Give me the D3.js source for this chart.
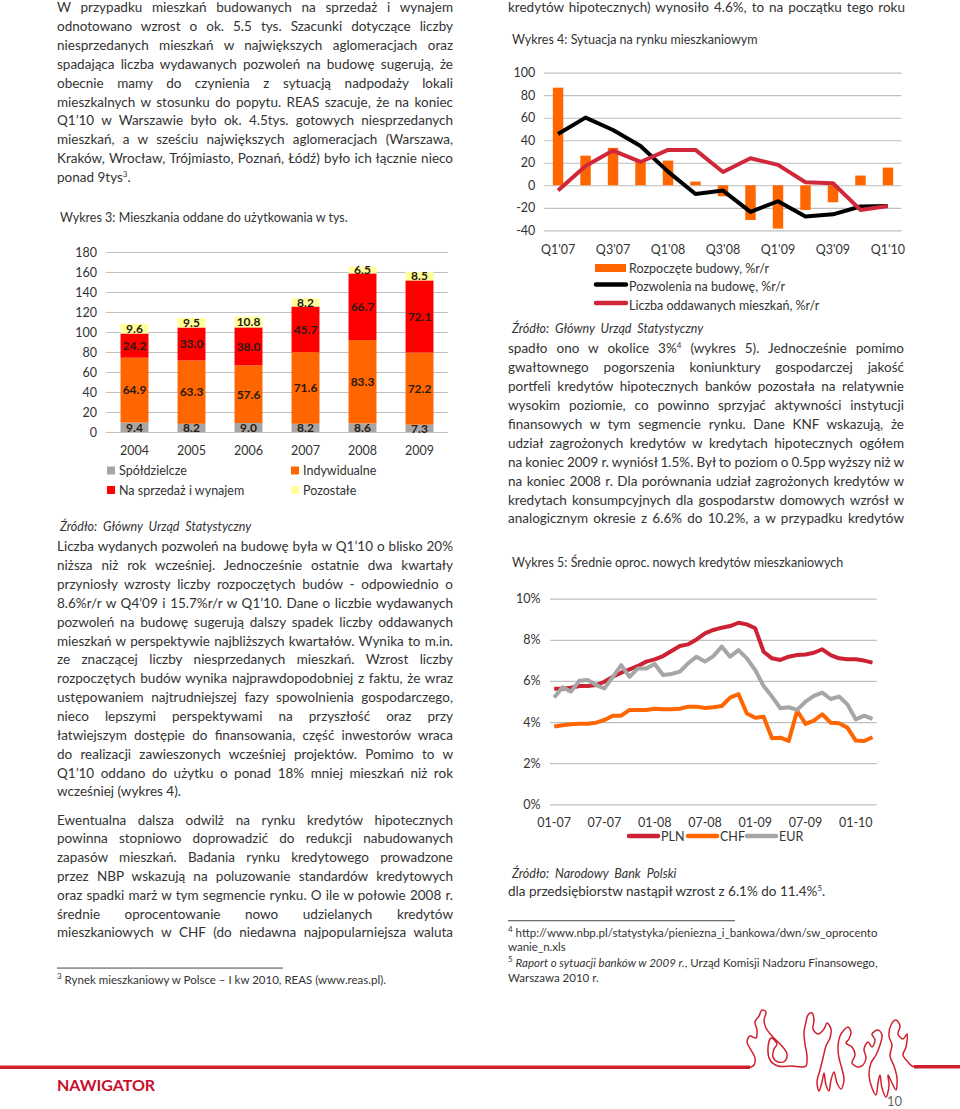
<!DOCTYPE html>
<html><head><meta charset="utf-8">
<script src="https://cdn.jsdelivr.net/npm/d3@7"></script>
<style>
html,body{margin:0;padding:0;background:#fff;}
body{width:960px;height:1109px;position:relative;overflow:hidden;font-family:Lato,'Open Sans',sans-serif;color:#333;}
svg{position:absolute;left:0;top:0;}
.ln{position:absolute;white-space:nowrap;font-size:13.5px;line-height:19px;color:#333;}
.ln sup{font-size:8px;line-height:0;vertical-align:5px;}
.small{font-size:11.5px;line-height:14px;}
.cap{font-size:12.5px;}
.src{font-size:12.5px;font-style:italic;word-spacing:3px;}
</style></head><body>
<svg id="page" width="960" height="1109"></svg>
<script>
// ---------- Chart 3 data ----------
const years = ["2004","2005","2006","2007","2008","2009"];
const coop  = [9.4, 8.2, 9.0, 8.2, 8.6, 7.3];
const indiv = [64.9, 63.3, 57.6, 71.6, 83.3, 72.2];
const sale  = [24.2, 33.0, 38.0, 45.7, 66.7, 72.1];
const other = [9.6, 9.5, 10.8, 8.2, 6.5, 8.5];
const ticks3 = [0,20,40,60,80,100,120,140,160,180];
const names3 = ["Spółdzielcze","Indywidualne","Na sprzedaż i wynajem","Pozostałe"];

// ---------- Chart 4 data ----------
const quarters = ["Q1'07","Q2'07","Q3'07","Q4'07","Q1'08","Q2'08","Q3'08","Q4'08","Q1'09","Q2'09","Q3'09","Q4'09","Q1'10"];
const qLabels = ["Q1'07","Q3'07","Q1'08","Q3'08","Q1'09","Q3'09","Q1'10"];
const starts    = [86.7, 26.3, 33.2, 20.5, 21.9, 3.3, -9.8, -30.8, -38.5, -21.9, -15.1, 8.6, 15.7];
const permits   = [45.6, 60.1, 49.1, 34.9, 12.1, -7.7, -4.7, -23.7, -14.2, -27.8, -25.8, -18.9, -18.4];
const completed = [-4.7, 17.2, 30.8, 20.7, 31.4, 31.4, 11.8, 24.0, 18.1, 2.7, 1.8, -21.9, -18.4];
const ticks4 = [-40,-20,0,20,40,60,80,100];
const names4 = ["Rozpoczęte budowy, %r/r","Pozwolenia na budowę, %r/r","Liczba oddawanych mieszkań, %r/r"];

// ---------- Chart 5 data ----------
const months = ["01-07","02-07","03-07","04-07","05-07","06-07","07-07","08-07","09-07","10-07","11-07","12-07",
 "01-08","02-08","03-08","04-08","05-08","06-08","07-08","08-08","09-08","10-08","11-08","12-08",
 "01-09","02-09","03-09","04-09","05-09","06-09","07-09","08-09","09-09","10-09","11-09","12-09",
 "01-10","02-10","03-10"];
const mLabels = ["01-07","07-07","01-08","07-08","01-09","07-09","01-10"];
const pln = [5.62,5.62,5.67,5.75,5.75,5.8,5.96,6.2,6.4,6.56,6.73,6.94,7.05,7.21,7.46,7.7,7.78,8.02,8.31,8.48,8.59,8.67,8.83,8.75,8.56,7.42,7.1,7.02,7.18,7.26,7.29,7.37,7.54,7.26,7.1,7.05,7.05,6.99,6.89];
const chf = [3.78,3.84,3.89,3.92,3.92,3.97,4.1,4.31,4.31,4.59,4.59,4.59,4.65,4.62,4.62,4.65,4.75,4.75,4.68,4.72,4.78,5.19,5.36,4.42,4.21,4.26,3.21,3.24,3.08,4.55,3.91,4.07,4.38,3.97,3.94,3.73,3.1,3.08,3.26];
const eur = [5.19,5.69,5.48,6.01,6.05,5.8,5.64,6.2,6.77,6.2,6.61,6.61,6.82,6.29,6.34,6.45,6.86,7.18,6.94,7.21,7.67,7.18,7.5,7.1,6.53,5.75,5.24,4.67,4.72,4.59,4.99,5.27,5.43,5.12,5.24,4.86,4.13,4.31,4.15];
const ticks5 = [0,2,4,6,8,10];
const names5 = ["PLN","CHF","EUR"];

// ---------- Page text ----------
const P1 = [
 "W przypadku mieszkań budowanych na sprzedaż i wynajem",
 "odnotowano wzrost o ok. 5.5 tys. Szacunki dotyczące liczby",
 "niesprzedanych mieszkań w największych aglomeracjach oraz",
 "spadająca liczba wydawanych pozwoleń na budowę sugerują, że",
 "obecnie mamy do czynienia z sytuacją nadpodaży lokali",
 "mieszkalnych w stosunku do popytu. REAS szacuje, że na koniec",
 "Q1’10 w Warszawie było ok. 4.5tys. gotowych niesprzedanych",
 "mieszkań, a w sześciu największych aglomeracjach (Warszawa,",
 "Kraków, Wrocław, Trójmiasto, Poznań, Łódź) było ich łącznie nieco",
 "ponad 9tys<sup>3</sup>."
];
const P2 = [
 "Liczba wydanych pozwoleń na budowę była w Q1’10 o blisko 20%",
 "niższa niż rok wcześniej. Jednocześnie ostatnie dwa kwartały",
 "przyniosły wzrosty liczby rozpoczętych budów - odpowiednio o",
 "8.6%r/r w Q4’09 i 15.7%r/r w Q1’10. Dane o liczbie wydawanych",
 "pozwoleń na budowę sugerują dalszy spadek liczby oddawanych",
 "mieszkań w perspektywie najbliższych kwartałów. Wynika to m.in.",
 "ze znaczącej liczby niesprzedanych mieszkań. Wzrost liczby",
 "rozpoczętych budów wynika najprawdopodobniej z faktu, że wraz",
 "ustępowaniem najtrudniejszej fazy spowolnienia gospodarczego,",
 "nieco lepszymi perspektywami na przyszłość oraz przy",
 "łatwiejszym dostępie do finansowania, część inwestorów wraca",
 "do realizacji zawieszonych wcześniej projektów. Pomimo to w",
 "Q1’10 oddano do użytku o ponad 18% mniej mieszkań niż rok",
 "wcześniej (wykres 4)."
];
const P3 = [
 "Ewentualna dalsza odwilż na rynku kredytów hipotecznych",
 "powinna stopniowo doprowadzić do redukcji nabudowanych",
 "zapasów mieszkań. Badania rynku kredytowego prowadzone",
 "przez NBP wskazują na poluzowanie standardów kredytowych",
 "oraz spadki marż w tym segmencie rynku. O ile w połowie 2008 r.",
 "średnie oprocentowanie nowo udzielanych kredytów",
 "mieszkaniowych w CHF (do niedawna najpopularniejsza waluta"
];
const R0 = ["kredytów hipotecznych) wynosiło 4.6%, to na początku tego roku"];
const R1 = [
 "spadło ono w okolice 3%<sup>4</sup> (wykres 5). Jednocześnie pomimo",
 "gwałtownego pogorszenia koniunktury gospodarczej jakość",
 "portfeli kredytów hipotecznych banków pozostała na relatywnie",
 "wysokim poziomie, co powinno sprzyjać aktywności instytucji",
 "finansowych w tym segmencie rynku. Dane KNF wskazują, że",
 "udział zagrożonych kredytów w kredytach hipotecznych ogółem",
 "na koniec 2009 r. wyniósł 1.5%. Był to poziom o 0.5pp wyższy niż w",
 "na koniec 2008 r. Dla porównania udział zagrożonych kredytów w",
 "kredytach konsumpcyjnych dla gospodarstw domowych wzrósł w",
 "analogicznym okresie z 6.6% do 10.2%, a w przypadku kredytów"
];
const R2 = ["dla przedsiębiorstw nastąpił wzrost z 6.1% do 11.4%<sup>5</sup>."];

const body = d3.select("body");
function block(lines, x, w, y0, step, lastJust, cls) {
  lines.forEach((t, i) => {
    const div = body.append("div").attr("class", "ln" + (cls ? " " + cls : ""))
      .style("left", x + "px").style("top", (y0 + i * step - 10) + "px").html(t);
    const isLast = i === lines.length - 1;
    if (!isLast || lastJust) {
      const node = div.node();
      const nat = node.getBoundingClientRect().width;
      const sp = (node.textContent.match(/ /g) || []).length;
      if (sp) div.style("word-spacing", ((w - nat) / sp) + "px");
    }
  });
}
block(P1, 57, 396, 8, 18.9, false);
block(P2, 57, 396, 547.3, 18.85, false);
block(P3, 57, 396, 820.7, 18.77, true);
block(R0, 508, 397, 8, 19, true);
block(R1, 508, 396, 349.3, 18.9, true);
block(R2, 508, 396, 892, 19, false);

function note(html, x, y, cls) {
  body.append("div").attr("class", "ln " + cls).style("left", x + "px").style("top", (y - 10) + "px").html(html);
}
note("Wykres 3: Mieszkania oddane do użytkowania w tys.", 60, 218, "cap");
note("Wykres 4: Sytuacja na rynku mieszkaniowym", 512, 40, "cap");
note("Wykres 5: Średnie oproc. nowych kredytów mieszkaniowych", 512, 563, "cap");
note("Źródło: Główny Urząd Statystyczny", 60, 527, "src");
note("Źródło: Główny Urząd Statystyczny", 512, 329, "src");
note("Źródło: Narodowy Bank Polski", 512, 874, "src");
note("<sup>3</sup> Rynek mieszkaniowy w Polsce – I kw 2010, REAS (www.reas.pl).", 57, 983, "small");
note("<sup>4</sup> http://www.nbp.pl/statystyka/pieniezna_i_bankowa/dwn/sw_oprocento", 508, 936, "small");
note("wanie_n.xls", 508, 950, "small");
note("<sup>5</sup> <i>Raport o sytuacji banków w 2009 r.</i>, Urząd Komisji Nadzoru Finansowego,", 508, 966, "small");
note("Warszawa 2010 r.", 508, 981, "small");

// ---------- SVG ----------
const svg = d3.select("#page");
const F = "Lato, 'Open Sans', sans-serif";
const GRID = "#bfbfbf";
svg.style("font-family", F);

function styleAxis(g, fs) {
  g.select(".domain").remove();
  g.selectAll(".tick line").attr("stroke", GRID).attr("stroke-width", 1.2);
  g.selectAll(".tick text").attr("fill", "#333").style("font-size", fs + "px").style("font-family", F);
}

// footnote rules
svg.append("rect").attr("x", 57).attr("y", 967.6).attr("width", 226).attr("height", 0.9).attr("fill", "#333");
svg.append("rect").attr("x", 508).attr("y", 920.3).attr("width", 227).attr("height", 0.9).attr("fill", "#333");

// ===== Chart 3 =====
const c3 = svg.append("g");
const x3 = d3.scaleBand().domain(years).range([106, 448]).paddingInner(0.51).paddingOuter(0.255);
const y3 = d3.scaleLinear().domain([0, 180]).range([432, 252]);
c3.append("g").attr("transform", "translate(106,0)")
  .call(d3.axisLeft(y3).tickValues(ticks3).tickSize(-(448 - 106)).tickPadding(9).tickFormat(d => String(d)))
  .call(g => styleAxis(g, 12.5));
const rows3 = years.map((yr, i) => ({ year: yr, a: coop[i], b: indiv[i], c: sale[i], d: other[i] }));
const keys3 = ["a", "b", "c", "d"];
const col3 = { a: "#a6a6a6", b: "#ff6600", c: "#ff0000", d: "#ffff99" };
const stack3 = d3.stack().keys(keys3)(rows3);
const layer3 = c3.selectAll("g.layer").data(stack3).join("g").attr("class", "layer").attr("fill", d => col3[d.key]);
layer3.selectAll("rect").data(d => d).join("rect")
  .attr("x", d => x3(d.data.year)).attr("width", x3.bandwidth())
  .attr("y", d => y3(d[1])).attr("height", d => y3(d[0]) - y3(d[1]));
stack3.forEach(s => {
  c3.selectAll(null).data(s).join("text")
    .attr("x", d => x3(d.data.year) + x3.bandwidth() / 2)
    .attr("y", d => (y3(d[0]) + y3(d[1])) / 2)
    .attr("dy", "0.36em").attr("text-anchor", "middle")
    .attr("fill", "#2a1a10").style("font-size", "12px").style("font-weight", "bold")
    .text(d => d3.format(".1f")(d[1] - d[0]));
});
c3.append("g").attr("transform", "translate(0,432)")
  .call(d3.axisBottom(x3).tickSize(0).tickPadding(14))
  .call(g => styleAxis(g, 12.5));
const leg3 = [{ k: "a", x: 107, y: 470.5 }, { k: "b", x: 291, y: 470.5 }, { k: "c", x: 107, y: 490 }, { k: "d", x: 291, y: 490 }];
leg3.forEach((L, i) => {
  c3.append("rect").attr("x", L.x).attr("y", L.y - 4).attr("width", 8).attr("height", 8).attr("fill", col3[L.k]);
  c3.append("text").attr("x", L.x + 12).attr("y", L.y).attr("dy", "0.36em").attr("fill", "#333")
    .style("font-size", "12.5px").text(names3[i]);
});

// ===== Chart 4 =====
const c4 = svg.append("g");
const x4 = d3.scaleBand().domain(quarters).range([544.3, 901.7]).paddingInner(0.62).paddingOuter(0.31);
const y4 = d3.scaleLinear().domain([-40, 100]).range([230.3, 72.7]);
c4.append("g").attr("transform", "translate(544.3,0)")
  .call(d3.axisLeft(y4).tickValues(ticks4).tickSize(-(901.7 - 544.3)).tickPadding(9).tickFormat(d => String(d)))
  .call(g => styleAxis(g, 12.5));
c4.selectAll("rect.bar").data(starts).join("rect").attr("class", "bar")
  .attr("x", (d, i) => x4(quarters[i])).attr("width", x4.bandwidth())
  .attr("y", d => y4(Math.max(0, d))).attr("height", d => Math.abs(y4(d) - y4(0)))
  .attr("fill", "#ff6600");
const cx4 = i => x4(quarters[i]) + x4.bandwidth() / 2;
const line4 = d3.line().x((d, i) => cx4(i)).y(d => y4(d));
c4.append("path").attr("d", line4(permits)).attr("fill", "none").attr("stroke", "#000").attr("stroke-width", 4).attr("stroke-linejoin", "round");
c4.append("path").attr("d", line4(completed)).attr("fill", "none").attr("stroke", "#d0283a").attr("stroke-width", 4).attr("stroke-linejoin", "round");
c4.append("g").attr("transform", "translate(0,230.3)")
  .call(d3.axisBottom(x4).tickValues(qLabels).tickSize(0).tickPadding(14.5))
  .call(g => styleAxis(g, 12.5));
// legend
c4.append("rect").attr("x", 595).attr("y", 264).attr("width", 31).attr("height", 8).attr("fill", "#ff6600");
c4.append("line").attr("x1", 596).attr("x2", 626).attr("y1", 284.5).attr("y2", 284.5).attr("stroke", "#000").attr("stroke-width", 4.5).attr("stroke-linecap", "round");
c4.append("line").attr("x1", 596).attr("x2", 626).attr("y1", 303).attr("y2", 303).attr("stroke", "#d0283a").attr("stroke-width", 4.5).attr("stroke-linecap", "round");
[268, 286.5, 305].forEach((yy, i) => {
  c4.append("text").attr("x", 629).attr("y", yy).attr("dy", "0.36em").attr("fill", "#333").style("font-size", "12.5px").text(names4[i]);
});

// ===== Chart 5 =====
const c5 = svg.append("g");
const x5 = d3.scaleBand().domain(months).range([550, 876.7]);
const y5 = d3.scaleLinear().domain([0, 10]).range([804.3, 598.7]);
c5.append("g").attr("transform", "translate(550,0)")
  .call(d3.axisLeft(y5).tickValues(ticks5).tickSize(-(876.7 - 550)).tickPadding(9.5).tickFormat(d => d + "%"))
  .call(g => styleAxis(g, 12.5));
const line5 = d3.line().x((d, i) => x5(months[i]) + x5.bandwidth() / 2).y(d => y5(d));
const series5 = [{ v: pln, c: "#cc2233" }, { v: chf, c: "#ff6600" }, { v: eur, c: "#a6a6a6" }];
series5.forEach(s => {
  c5.append("path").attr("d", line5(s.v)).attr("fill", "none").attr("stroke", s.c).attr("stroke-width", 4).attr("stroke-linejoin", "round");
});
c5.append("g").attr("transform", "translate(0,804.3)")
  .call(d3.axisBottom(x5).tickValues(mLabels).tickSize(0).tickPadding(14))
  .call(g => styleAxis(g, 12.5));
const leg5 = [{ x: 629, c: "#cc2233" }, { x: 688, c: "#ff6600" }, { x: 747, c: "#a6a6a6" }];
leg5.forEach((L, i) => {
  c5.append("line").attr("x1", L.x).attr("x2", L.x + 29).attr("y1", 836).attr("y2", 836).attr("stroke", L.c).attr("stroke-width", 4.5).attr("stroke-linecap", "round");
  c5.append("text").attr("x", L.x + 32).attr("y", 836).attr("dy", "0.36em").attr("fill", "#333").style("font-size", "12.5px").text(names5[i]);
});

// ===== Footer =====
const RED = "#d0202e";
const footer = svg.append("g").attr("class", "footer");
footer.append("rect").attr("x", 0).attr("y", 1065.5).attr("width", 750).attr("height", 3.5).attr("fill", RED);
footer.append("rect").attr("x", 914).attr("y", 1065).attr("width", 46).attr("height", 3.5).attr("fill", RED);
const logoPts = [[748,1068],[754,1065],[755,1058],[751,1050],[747,1042],[750,1036],[756,1038],[757,1030],[755,1022],[759,1016],[762,1010],[766,1012],[764,1020],[766,1028],[772,1036],[781,1045],[787,1054],[785,1061],[778,1062],[773,1057],[774,1049],[777,1044],[771,1038],[768,1048],[770,1060],[778,1066],[792,1066],[801,1067],[806,1066],[807,1056],[805,1044],[804,1032],[806,1022],[808,1015],[812,1013],[814,1020],[813,1029],[818,1034],[824,1029],[827,1023],[831,1029],[830,1038],[826,1046],[823,1058],[820,1070],[817,1082],[819,1091],[822,1082],[824,1073],[826,1085],[829,1091],[831,1080],[834,1072],[837,1083],[841,1089],[844,1080],[842,1069],[839,1058],[838,1047],[840,1036],[844,1030],[848,1027],[851,1032],[849,1039],[846,1043],[852,1047],[855,1055],[852,1063],[858,1067],[863,1065],[866,1058],[864,1049],[868,1042],[872,1047],[875,1040],[872,1034],[878,1030],[882,1035],[880,1045],[876,1055],[871,1063],[869,1075],[872,1088],[876,1095],[878,1083],[880,1075],[882,1088],[886,1097],[889,1086],[888,1075],[892,1083],[896,1090],[897,1078],[894,1066],[890,1056],[892,1045],[889,1036],[891,1025],[896,1020],[900,1026],[898,1034],[903,1039],[907,1034],[906,1047],[903,1055],[908,1062],[912,1066],[916,1067]];
footer.append("path").attr("d", d3.line().curve(d3.curveCatmullRom.alpha(0.5))(logoPts))
  .attr("fill", "none").attr("stroke", RED).attr("stroke-width", 1.5).attr("stroke-linejoin", "round");
footer.append("text").attr("x", 57).attr("y", 1085).attr("dy", "0.36em").attr("fill", "#c8102e")
  .style("font-size", "16px").style("font-weight", "bold").text("NAWIGATOR");
footer.append("text").attr("x", 887).attr("y", 1101).attr("dy", "0.36em").attr("fill", "#666")
  .style("font-size", "13px").text("10");
</script>
</body></html>
